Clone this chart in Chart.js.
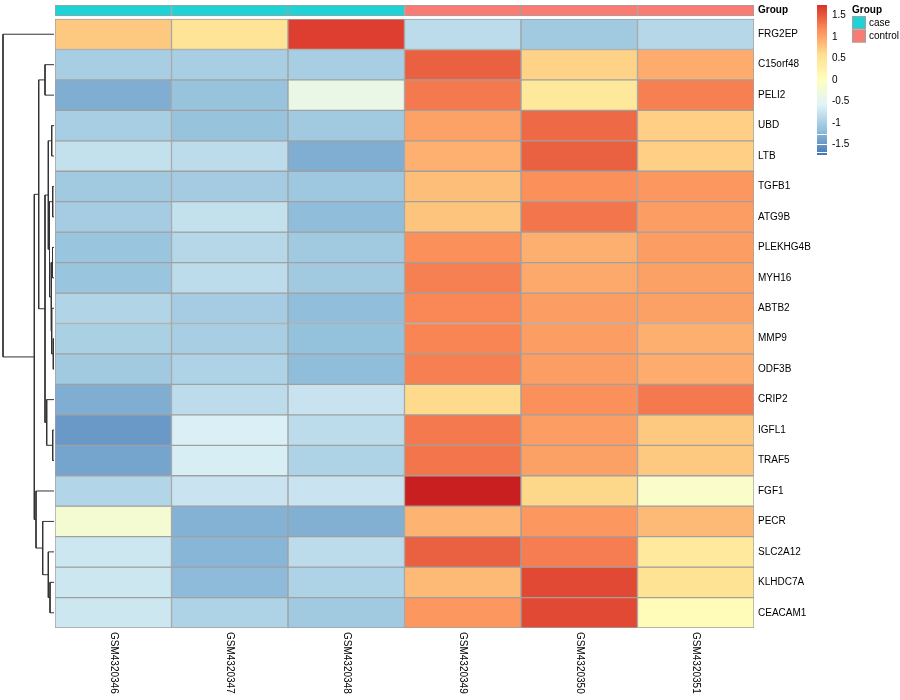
<!DOCTYPE html>
<html>
<head>
<meta charset="utf-8">
<script src="https://cdn.jsdelivr.net/npm/chart.js@4.4.1/dist/chart.umd.min.js"></script>
<style>
  html, body { margin: 0; padding: 0; background: #ffffff; }
  #wrap { position: relative; width: 900px; height: 700px; }
  #heat { position: absolute; left: 0; top: 0; width: 900px; height: 700px; }
  #dend { position: absolute; left: 0; top: 0; width: 58px; height: 700px; }
</style>
</head>
<body>
<div id="wrap">
  <canvas id="heat" width="900" height="700"></canvas>
  <canvas id="dend" width="58" height="700"></canvas>
</div>
<script>
// ---------------- data ----------------
const samples = ['GSM4320346', 'GSM4320347', 'GSM4320348', 'GSM4320349', 'GSM4320350', 'GSM4320351'];
const genes = ['FRG2EP', 'C15orf48', 'PELI2', 'UBD', 'LTB', 'TGFB1', 'ATG9B', 'PLEKHG4B', 'MYH16', 'ABTB2',
               'MMP9', 'ODF3B', 'CRIP2', 'IGFL1', 'TRAF5', 'FGF1', 'PECR', 'SLC2A12', 'KLHDC7A', 'CEACAM1'];
const groups = ['case', 'case', 'case', 'control', 'control', 'control'];
const groupLevels = ['case', 'control'];
const groupColors = ['#1FD2D6', '#FA7B73'];

// z-scores, one row per gene, one column per sample
const rowFRG2EP   = [0.75, 0.50, 1.67, -0.85, -1.05, -0.90];
const rowC15orf48 = [-1.00, -1.00, -1.00, 1.45, 0.68, 0.95];
const rowPELI2    = [-1.30, -1.12, -0.40, 1.30, 0.43, 1.25];
const rowUBD      = [-1.00, -1.12, -1.05, 1.02, 1.40, 0.70];
const rowLTB      = [-0.80, -0.85, -1.30, 0.92, 1.45, 0.70];
const rowTGFB1    = [-1.05, -1.03, -1.07, 0.82, 1.15, 1.10];
const rowATG9B    = [-1.02, -0.80, -1.18, 0.78, 1.32, 1.05];
const rowPLEKHG4B = [-1.10, -0.90, -1.05, 1.15, 0.93, 1.05];
const rowMYH16    = [-1.10, -0.85, -1.05, 1.25, 0.97, 1.03];
const rowABTB2    = [-0.93, -1.02, -1.17, 1.20, 1.05, 1.03];
const rowMMP9     = [-0.98, -1.00, -1.15, 1.22, 1.05, 0.93];
const rowODF3B    = [-1.05, -0.95, -1.18, 1.25, 1.05, 0.95];
const rowCRIP2    = [-1.30, -0.85, -0.76, 0.62, 1.15, 1.30];
const rowIGFL1    = [-1.47, -0.62, -0.85, 1.30, 1.05, 0.75];
const rowTRAF5    = [-1.38, -0.64, -0.95, 1.32, 1.03, 0.75];
const rowFGF1     = [-0.92, -0.75, -0.75, 1.82, 0.64, -0.10];
const rowPECR     = [-0.20, -1.27, -1.29, 0.90, 1.10, 0.85];
const rowSLC2A12  = [-0.72, -1.24, -0.85, 1.45, 1.27, 0.42];
const rowKLHDC7A  = [-0.72, -1.20, -0.95, 0.85, 1.60, 0.52];
const rowCEACAM1  = [-0.72, -0.95, -1.05, 1.10, 1.60, 0.08];
const expr = [rowFRG2EP, rowC15orf48, rowPELI2, rowUBD, rowLTB, rowTGFB1, rowATG9B, rowPLEKHG4B, rowMYH16, rowABTB2,
              rowMMP9, rowODF3B, rowCRIP2, rowIGFL1, rowTRAF5, rowFGF1, rowPECR, rowSLC2A12, rowKLHDC7A, rowCEACAM1];

// row dendrogram, hclust style: negative = leaf (1-based row), positive = earlier merge (1-based)
const dendMerge = [[-11, -12], [-8, -9], [-6, -7], [-14, -15], [-4, -5], [-10, 1], [2, 6], [3, 7], [5, 8],
                   [-19, -20], [-18, 10], [-13, 4], [-2, -3], [9, 12], [-17, 11], [13, 14], [-16, 15], [16, 17], [-1, 18]];
const dendHeight = [0.7, 1.5, 1.3, 1.3, 2.3, 2.3, 3.0, 4.5, 5.7, 4.0, 5.7, 7.3, 9.0, 9.0, 11.3, 15.3, 18.0, 19.7, 51.0];

// colour legend
const legendTicks = [1.5, 1, 0.5, 0, -0.5, -1, -1.5];
const legendLabels = ['1.5', '1', '0.5', '0', '-0.5', '-1', '-1.5'];
const paletteValues = [-1.75, -1.17, -0.58, 0.0, 0.58, 1.17, 1.76, 1.85];
const paletteColors = ['#4575B4', '#91BFDB', '#E0F3F8', '#FFFFBF', '#FEE090', '#FC8D59', '#D73027', '#C4161C'];

// ---------------- helpers ----------------
const FONT = '"Liberation Sans", Arial, Helvetica, sans-serif';
function hexToRgb(h) {
  const n = parseInt(h.slice(1), 16);
  return [(n >> 16) & 255, (n >> 8) & 255, n & 255];
}
function colorFor(v) {
  if (v <= paletteValues[0]) return paletteColors[0];
  const last = paletteValues.length - 1;
  if (v >= paletteValues[last]) return paletteColors[last];
  for (let i = 0; i < last; i++) {
    if (v >= paletteValues[i] && v <= paletteValues[i + 1]) {
      const t = (v - paletteValues[i]) / (paletteValues[i + 1] - paletteValues[i]);
      const a = hexToRgb(paletteColors[i]), b = hexToRgb(paletteColors[i + 1]);
      const c = a.map((x, k) => Math.round(x + (b[k] - x) * t));
      return 'rgb(' + c.join(',') + ')';
    }
  }
  return paletteColors[last];
}

// ---------------- heatmap chart ----------------
const annTop = -0.46, annBottom = -0.10;   // annotation strip, in row units
const heatDatasets = [];
heatDatasets.push({
  label: 'Group',
  data: samples.map(() => [annTop, annBottom]),
  backgroundColor: groups.map(g => groupColors[groupLevels.indexOf(g)]),
  borderColor: '#A0A0A0', borderWidth: 1, borderSkipped: false,
  grouped: false, categoryPercentage: 1, barPercentage: 1
});
genes.forEach((g, r) => {
  heatDatasets.push({
    label: g,
    data: expr[r].map(() => [r, r + 1]),
    backgroundColor: expr[r].map(colorFor),
    borderColor: '#A0A0A0', borderWidth: 1, borderSkipped: false,
    grouped: false, categoryPercentage: 1, barPercentage: 1
  });
});

const decorPlugin = {
  id: 'decor',
  afterDraw(chart) {
    const ctx = chart.ctx;
    const xs = chart.scales.x;
    ctx.save();
    ctx.fillStyle = '#000';
    // column labels, rotated clockwise
    ctx.font = '10px ' + FONT;
    ctx.textAlign = 'left';
    ctx.textBaseline = 'middle';
    samples.forEach((s, j) => {
      const x = xs.getPixelForValue(j);
      ctx.save();
      ctx.translate(x, chart.chartArea.bottom + 4);
      ctx.rotate(Math.PI / 2);
      ctx.fillText(s, 0, 0);
      ctx.restore();
    });
    // colour bar
    const cbX = 817, cbW = 10, cbTop = 5, cbBottom = 155, cbZero = 80, cbUnit = 43;
    for (let y = cbTop; y < cbBottom; y++) {
      const v = (cbZero - (y + 0.5)) / cbUnit;
      ctx.fillStyle = colorFor(v);
      ctx.fillRect(cbX, y, cbW, 1);
    }
    ctx.fillStyle = '#ffffff';
    ctx.fillRect(cbX, 134, cbW, 1);
    ctx.fillRect(cbX, 144, cbW, 1);
    ctx.fillRect(cbX, 152, cbW, 1);
    ctx.fillStyle = '#000';
    ctx.font = '10px ' + FONT;
    ctx.textAlign = 'left';
    ctx.textBaseline = 'middle';
    legendTicks.forEach((t, i) => {
      ctx.fillText(legendLabels[i], 832, cbZero - t * cbUnit);
    });
    // group legend
    ctx.font = 'bold 10px ' + FONT;
    ctx.fillText('Group', 852, 10);
    ctx.font = '10px ' + FONT;
    groupLevels.forEach((g, i) => {
      const y = 16 + i * 13.5;
      ctx.fillStyle = groupColors[i];
      ctx.fillRect(852, y, 14, 13);
      ctx.strokeStyle = '#A0A0A0';
      ctx.lineWidth = 1;
      ctx.strokeRect(852.5, y + 0.5, 13, 12);
      ctx.fillStyle = '#000';
      ctx.fillText(g, 869, y + 7);
    });
    ctx.restore();
  }
};

new Chart(document.getElementById('heat'), {
  type: 'bar',
  data: { labels: samples, datasets: heatDatasets },
  options: {
    responsive: false,
    animation: false,
    events: [],
    layout: { padding: { left: 55, top: 5, right: 0, bottom: 72 } },
    plugins: { legend: { display: false }, tooltip: { enabled: false } },
    scales: {
      x: { type: 'category', display: false, offset: true, grid: { display: false } },
      y: {
        type: 'linear', position: 'right', reverse: true, min: annTop, max: genes.length,
        grid: { display: false, drawTicks: false }, border: { display: false },
        afterBuildTicks(scale) {
          scale.ticks = [{ value: (annTop + annBottom) / 2 }].concat(genes.map((g, i) => ({ value: i + 0.5 })));
        },
        afterFit(scale) { scale.width = 146; scale.paddingTop = 0; scale.paddingBottom = 0; },
        ticks: {
          autoSkip: false, padding: 4, color: '#000',
          font: (c) => ({ family: FONT, size: 10, weight: c.index === 0 ? 'bold' : 'normal' }),
          callback: (value, index) => index === 0 ? 'Group' : genes[index - 1]
        }
      }
    }
  },
  plugins: [decorPlugin]
});

// ---------------- dendrogram chart ----------------
const nodeCache = [];
function nodePos(id) {
  // leaf (negative) or earlier merge (positive)
  if (id < 0) return { h: 0, y: -id - 1 + 0.5 };
  return nodeCache[id - 1];
}
const dendDatasets = [];
dendMerge.forEach((m, k) => {
  const a = nodePos(m[0]), b = nodePos(m[1]);
  const h = dendHeight[k];
  nodeCache.push({ h: h, y: (a.y + b.y) / 2 });
  dendDatasets.push({
    data: [{ x: a.h, y: a.y }, { x: h, y: a.y }, { x: h, y: b.y }, { x: b.h, y: b.y }],
    showLine: true, borderColor: '#333333', borderWidth: 1, pointRadius: 0, tension: 0, clip: false, fill: false
  });
});

new Chart(document.getElementById('dend'), {
  type: 'scatter',
  data: { datasets: dendDatasets },
  options: {
    responsive: false,
    animation: false,
    events: [],
    layout: { padding: { left: 3, right: 4, top: 19, bottom: 72 } },
    plugins: { legend: { display: false }, tooltip: { enabled: false } },
    scales: {
      x: { type: 'linear', display: false, reverse: true, min: 0, max: 51 },
      y: { type: 'linear', display: false, reverse: true, min: 0, max: genes.length }
    }
  }
});
</script>
</body>
</html>
